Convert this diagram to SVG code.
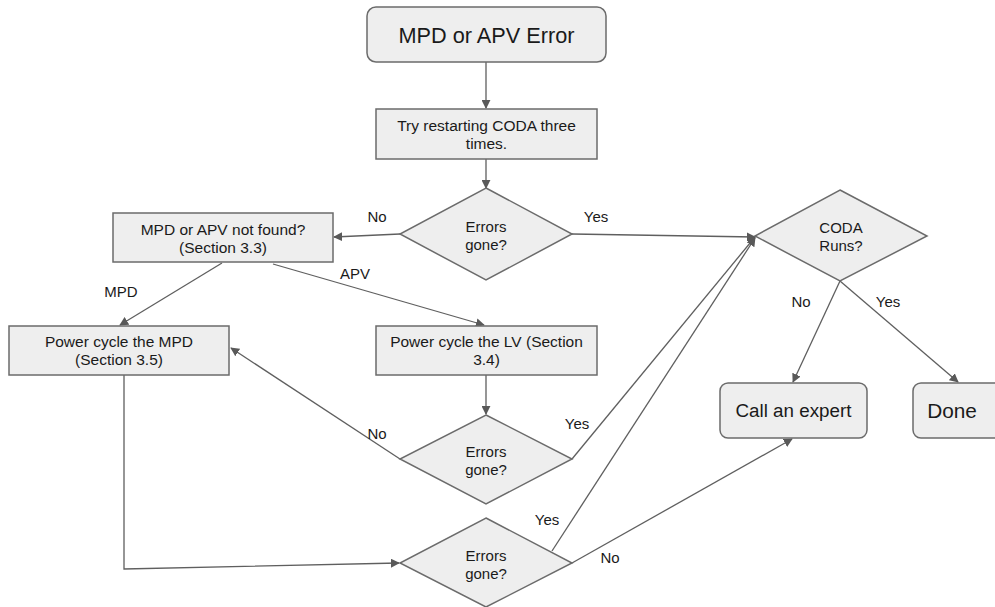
<svg xmlns="http://www.w3.org/2000/svg" width="995" height="607" viewBox="0 0 995 607">
<defs>
<marker id="ah" viewBox="0 0 10 10" refX="9" refY="5" markerWidth="9" markerHeight="9" markerUnits="userSpaceOnUse" orient="auto">
<path d="M0,0 L10,5 L0,10 z" fill="#595959"/>
</marker>
<style>
.n{fill:#eeeeee;stroke:#6b6b6b;stroke-width:1.5}
.t{font-family:"Liberation Sans",Arial,sans-serif;font-size:15.5px;fill:#1a1a1a;text-anchor:middle}
.lb{font-family:"Liberation Sans",Arial,sans-serif;font-size:15px;fill:#1a1a1a;text-anchor:middle}
.c{fill:none;stroke:#5f5f5f;stroke-width:1.3;marker-end:url(#ah)}
</style>
</defs>
<rect width="995" height="607" fill="#ffffff"/>
<g id="connectors">
<path class="c" d="M486,62 L486,108"/>
<path class="c" d="M486,159 L486,188"/>
<path class="c" d="M400,234 L334,237"/>
<path class="c" d="M572,234 L755,237"/>
<path class="c" d="M222,263 L120,325"/>
<path class="c" d="M273,264 L484,325"/>
<path class="c" d="M486,375 L486,414"/>
<path class="c" d="M400,459 L231,348"/>
<path class="c" d="M572,459 L755,237"/>
<path class="c" d="M124,375 L124,569 L399,563"/>
<path class="c" d="M552,551 L755,238"/>
<path class="c" d="M572,563 L792,439"/>
<path class="c" d="M840,281 L793,382"/>
<path class="c" d="M840,281 L958,382"/>
<text class="lb" x="377" y="222">No</text>
<text class="lb" x="596" y="222">Yes</text>
<text class="lb" x="121" y="297">MPD</text>
<text class="lb" x="355" y="279">APV</text>
<text class="lb" x="377" y="439">No</text>
<text class="lb" x="577" y="429">Yes</text>
<text class="lb" x="547" y="525">Yes</text>
<text class="lb" x="610" y="563">No</text>
<text class="lb" x="801" y="307">No</text>
<text class="lb" x="888" y="307">Yes</text>
</g>
<g id="start">
<rect class="n" x="367" y="7" width="239" height="55" rx="9"/>
<text class="t" x="486.5" y="43" style="font-size:21.7px">MPD or APV Error</text>
</g>
<g id="restart">
<rect class="n" x="376" y="109" width="221" height="50"/>
<text class="t" x="486.5" y="131">Try restarting CODA three</text>
<text class="t" x="486.5" y="149">times.</text>
</g>
<g id="errors1">
<polygon class="n" points="486,188 572,234 486,280 400,234"/>
<text class="t" x="486" y="232" style="font-size:15px">Errors</text>
<text class="t" x="486" y="250" style="font-size:15px">gone?</text>
</g>
<g id="notfound">
<rect class="n" x="113" y="213" width="220" height="49"/>
<text class="t" x="223" y="235">MPD or APV not found?</text>
<text class="t" x="223" y="253">(Section 3.3)</text>
</g>
<g id="mpd">
<rect class="n" x="9" y="326" width="220" height="49"/>
<text class="t" x="119" y="347">Power cycle the MPD</text>
<text class="t" x="119" y="365">(Section 3.5)</text>
</g>
<g id="lv">
<rect class="n" x="376" y="326" width="221" height="49"/>
<text class="t" x="486.5" y="347">Power cycle the LV (Section</text>
<text class="t" x="486.5" y="365">3.4)</text>
</g>
<g id="errors2">
<polygon class="n" points="486,415 572,459 486,504 400,459"/>
<text class="t" x="486" y="457" style="font-size:15px">Errors</text>
<text class="t" x="486" y="475" style="font-size:15px">gone?</text>
</g>
<g id="errors3">
<polygon class="n" points="486,518 572,563 486,607 400,563"/>
<text class="t" x="486" y="561" style="font-size:15px">Errors</text>
<text class="t" x="486" y="579" style="font-size:15px">gone?</text>
</g>
<g id="coda">
<polygon class="n" points="840,190 927,236 840,281 755,236"/>
<text class="t" x="841" y="233" style="font-size:15px">CODA</text>
<text class="t" x="841" y="251" style="font-size:15px">Runs?</text>
</g>
<g id="expert">
<rect class="n" x="720" y="383" width="147" height="55" rx="8"/>
<text class="t" x="793.5" y="417" style="font-size:18.8px">Call an expert</text>
</g>
<g id="done">
<rect class="n" x="913" y="383" width="100" height="55" rx="8"/>
<text class="t" x="952" y="418" style="font-size:20.8px">Done</text>
</g>
</svg>
